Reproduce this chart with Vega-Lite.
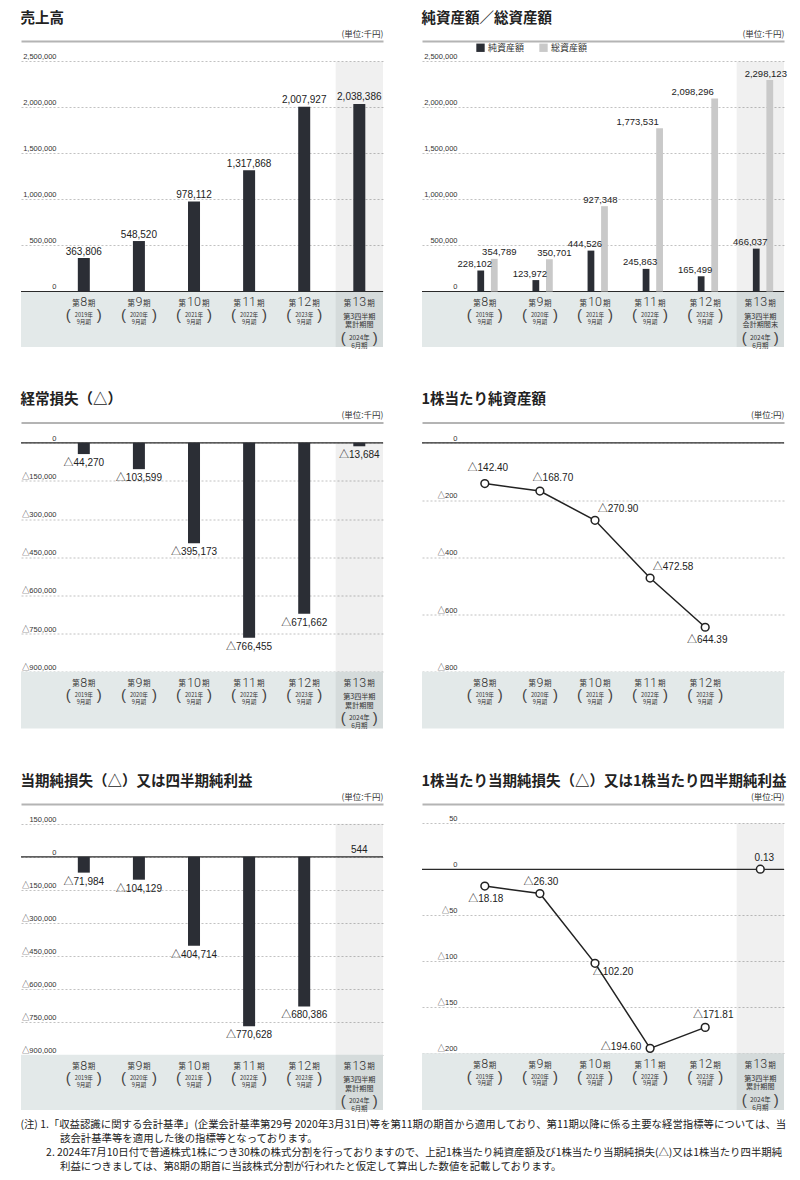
{
"$schema": "https://vega.github.io/schema/vega-lite/v6.json",
"background": "white",
"padding": {"left": 20, "top": 10, "right": 5, "bottom": 5},
"title": {"text": ["(注) 1.「収益認識に関する会計基準」(企業会計基準第29号 2020年3月31日)等を第11期の期首から適用しており、第11期以降に係る主要な経営指標等については、当", "\u200B\u3000\u3000\u3000\u2002\u2005\u200A該会計基準等を適用した後の指標等となっております。", "\u200B\u3000\u3000\u2005 2. 2024年7月10日付で普通株式1株につき30株の株式分割を行っておりますので、上記1株当たり純資産額及び1株当たり当期純損失(△)又は1株当たり四半期純", "\u200B\u3000\u3000\u3000\u2002\u2005\u200A利益につきましては、第8期の期首に当該株式分割が行われたと仮定して算出した数値を記載しております。"], "orient": "bottom", "anchor": "start", "fontSize": 10.4, "fontWeight": "normal", "lineHeight": 14.3, "offset": 7, "color": "#222", "font": "Noto Sans CJK JP"},
"datasets": {
"periods": [
{"period": "第8期", "n": "8", "sub": "2019年\n9月期"},
{"period": "第9期", "n": "9", "sub": "2020年\n9月期"},
{"period": "第10期", "n": "10", "sub": "2021年\n9月期"},
{"period": "第11期", "n": "11", "sub": "2022年\n9月期"},
{"period": "第12期", "n": "12", "sub": "2023年\n9月期"},
{"period": "第13期", "n": "13", "sub": "2024年\n6月期", "q": "第3四半期\n累計期間", "q2": "第3四半期\n会計期間末"}
],
"sales": [
{"period": "第8期", "value": 363806}, {"period": "第9期", "value": 548520}, {"period": "第10期", "value": 978112},
{"period": "第11期", "value": 1317868}, {"period": "第12期", "value": 2007927}, {"period": "第13期", "value": 2038386}
],
"assets": [
{"period": "第8期", "type": "純資産額", "value": 228102}, {"period": "第8期", "type": "総資産額", "value": 354789},
{"period": "第9期", "type": "純資産額", "value": 123972}, {"period": "第9期", "type": "総資産額", "value": 350701},
{"period": "第10期", "type": "純資産額", "value": 444526}, {"period": "第10期", "type": "総資産額", "value": 927348},
{"period": "第11期", "type": "純資産額", "value": 245863}, {"period": "第11期", "type": "総資産額", "value": 1773531},
{"period": "第12期", "type": "純資産額", "value": 165499}, {"period": "第12期", "type": "総資産額", "value": 2098296},
{"period": "第13期", "type": "純資産額", "value": 466037}, {"period": "第13期", "type": "総資産額", "value": 2298123}
],
"ordinary": [
{"period": "第8期", "value": -44270, "label": "△44,270"}, {"period": "第9期", "value": -103599, "label": "△103,599"},
{"period": "第10期", "value": -395173, "label": "△395,173"}, {"period": "第11期", "value": -766455, "label": "△766,455"},
{"period": "第12期", "value": -671662, "label": "△671,662"}, {"period": "第13期", "value": -13684, "label": "△13,684"}
],
"bps": [
{"period": "第8期", "value": -142.40, "label": "△142.40"}, {"period": "第9期", "value": -168.70, "label": "△168.70"},
{"period": "第10期", "value": -270.90, "label": "△270.90"}, {"period": "第11期", "value": -472.58, "label": "△472.58"},
{"period": "第12期", "value": -644.39, "label": "△644.39"}
],
"netloss": [
{"period": "第8期", "value": -71984, "label": "△71,984"}, {"period": "第9期", "value": -104129, "label": "△104,129"},
{"period": "第10期", "value": -404714, "label": "△404,714"}, {"period": "第11期", "value": -770628, "label": "△770,628"},
{"period": "第12期", "value": -680386, "label": "△680,386"}, {"period": "第13期", "value": 544, "label": "544"}
],
"eps": [
{"period": "第8期", "value": -18.18, "label": "△18.18"}, {"period": "第9期", "value": -26.30, "label": "△26.30"},
{"period": "第10期", "value": -102.20, "label": "△102.20"}, {"period": "第11期", "value": -194.60, "label": "△194.60"},
{"period": "第12期", "value": -171.81, "label": "△171.81"}, {"period": "第13期", "value": 0.13, "label": "0.13"}
]
},
"columns": 2,
"spacing": {"row": 75.5, "column": 39},
"bounds": "flush",
"concat": [
{
"width": 362, "height": 306,
"title": {"text": "売上高"},
"layer": [
{"data": {"values": [{}]}, "mark": {"type": "rect", "color": "#e3e9e9"}, "encoding": {"y": {"datum": 0, "type": "quantitative", "scale": {"domain": [-603300, 2722800], "nice": false, "zero": false}, "axis": {"title": null, "values": [0, 500000, 1000000, 1500000, 2000000, 2500000], "labelExpr": "datum.value < 0 ? '△' + format(-datum.value, ',') : format(datum.value, ',')"}}, "y2": {"datum": -603300}}},
{"data": {"values": [{"period": "第13期"}]}, "mark": {"type": "bar", "color": "#000000", "opacity": 0.06, "width": {"band": 1}}, "encoding": {"x": {"field": "period", "type": "nominal", "scale": {"type": "band", "domain": ["第8期", "第9期", "第10期", "第11期", "第12期", "第13期"], "paddingInner": 0.14, "paddingOuter": 0.355, "align": 1}, "axis": {"orient": "top", "title": "(単位:千円)"}}, "y": {"datum": 2500000, "type": "quantitative"}, "y2": {"datum": -603300}}},
{"data": {"values": [{}]}, "mark": {"type": "rule", "color": "#2a2a2a", "strokeWidth": 1.2}, "encoding": {"y": {"datum": 0, "type": "quantitative"}}},
{"data": {"name": "sales"}, "mark": {"type": "bar", "color": "#2b2e35", "width": 12}, "encoding": {"x": {"field": "period", "type": "nominal", "scale": {"type": "band", "domain": ["第8期", "第9期", "第10期", "第11期", "第12期", "第13期"], "paddingInner": 0.14, "paddingOuter": 0.355, "align": 1}}, "y": {"field": "value", "type": "quantitative"}, "y2": {"datum": 0}}},
{"data": {"name": "sales"}, "mark": {"type": "text", "font": "Liberation Sans, Noto Sans CJK JP, sans-serif", "fontSize": 10, "baseline": "alphabetic", "dy": -3.5, "color": "#222"}, "encoding": {"x": {"field": "period", "type": "nominal", "scale": {"type": "band", "domain": ["第8期", "第9期", "第10期", "第11期", "第12期", "第13期"], "paddingInner": 0.14, "paddingOuter": 0.355, "align": 1}}, "y": {"field": "value", "type": "quantitative"}, "text": {"field": "value", "type": "quantitative", "format": ","}}},
{"data": {"name": "periods"}, "transform": [{"filter": "length(datum.n) == 1"}], "mark": {"type": "text", "text": "第", "align": "right", "dx": -4, "dy": 12.5, "fontSize": 7.5, "color": "#333"}, "encoding": {"x": {"field": "period", "type": "nominal", "scale": {"type": "band", "domain": ["第8期", "第9期", "第10期", "第11期", "第12期", "第13期"], "paddingInner": 0.14, "paddingOuter": 0.355, "align": 1}}, "y": {"datum": 0, "type": "quantitative"}}},
{"data": {"name": "periods"}, "transform": [{"filter": "length(datum.n) == 1"}], "mark": {"type": "text", "text": "期", "align": "left", "dx": 4, "dy": 12.5, "fontSize": 7.5, "color": "#333"}, "encoding": {"x": {"field": "period", "type": "nominal", "scale": {"type": "band", "domain": ["第8期", "第9期", "第10期", "第11期", "第12期", "第13期"], "paddingInner": 0.14, "paddingOuter": 0.355, "align": 1}}, "y": {"datum": 0, "type": "quantitative"}}},
{"data": {"name": "periods"}, "transform": [{"filter": "length(datum.n) == 2"}], "mark": {"type": "text", "text": "第", "align": "right", "dx": -8, "dy": 12.5, "fontSize": 7.5, "color": "#333"}, "encoding": {"x": {"field": "period", "type": "nominal", "scale": {"type": "band", "domain": ["第8期", "第9期", "第10期", "第11期", "第12期", "第13期"], "paddingInner": 0.14, "paddingOuter": 0.355, "align": 1}}, "y": {"datum": 0, "type": "quantitative"}}},
{"data": {"name": "periods"}, "transform": [{"filter": "length(datum.n) == 2"}], "mark": {"type": "text", "text": "期", "align": "left", "dx": 8, "dy": 12.5, "fontSize": 7.5, "color": "#333"}, "encoding": {"x": {"field": "period", "type": "nominal", "scale": {"type": "band", "domain": ["第8期", "第9期", "第10期", "第11期", "第12期", "第13期"], "paddingInner": 0.14, "paddingOuter": 0.355, "align": 1}}, "y": {"datum": 0, "type": "quantitative"}}},
{"data": {"name": "periods"}, "mark": {"type": "text", "font": "Roboto", "fontWeight": 300, "fontSize": 12.5, "dy": 11, "color": "#333"}, "encoding": {"x": {"field": "period", "type": "nominal", "scale": {"type": "band", "domain": ["第8期", "第9期", "第10期", "第11期", "第12期", "第13期"], "paddingInner": 0.14, "paddingOuter": 0.355, "align": 1}}, "y": {"datum": 0, "type": "quantitative"}, "text": {"field": "n", "type": "nominal"}}},
{"data": {"name": "periods"}, "transform": [{"filter": "datum.n != '13'"}], "mark": {"type": "text", "fontSize": 5.6, "lineBreak": "\n", "lineHeight": 6.6, "dy": 23.5, "color": "#333"}, "encoding": {"x": {"field": "period", "type": "nominal", "scale": {"type": "band", "domain": ["第8期", "第9期", "第10期", "第11期", "第12期", "第13期"], "paddingInner": 0.14, "paddingOuter": 0.355, "align": 1}}, "y": {"datum": 0, "type": "quantitative"}, "text": {"field": "sub", "type": "nominal"}}},
{"data": {"name": "periods"}, "transform": [{"filter": "datum.n != '13'"}], "mark": {"type": "text", "text": "(", "font": "Liberation Sans, sans-serif", "fontSize": 15, "dx": -15.5, "dy": 23.5, "color": "#444"}, "encoding": {"x": {"field": "period", "type": "nominal", "scale": {"type": "band", "domain": ["第8期", "第9期", "第10期", "第11期", "第12期", "第13期"], "paddingInner": 0.14, "paddingOuter": 0.355, "align": 1}}, "y": {"datum": 0, "type": "quantitative"}}},
{"data": {"name": "periods"}, "transform": [{"filter": "datum.n != '13'"}], "mark": {"type": "text", "text": ")", "font": "Liberation Sans, sans-serif", "fontSize": 15, "dx": 15.5, "dy": 23.5, "color": "#444"}, "encoding": {"x": {"field": "period", "type": "nominal", "scale": {"type": "band", "domain": ["第8期", "第9期", "第10期", "第11期", "第12期", "第13期"], "paddingInner": 0.14, "paddingOuter": 0.355, "align": 1}}, "y": {"datum": 0, "type": "quantitative"}}},
{"data": {"name": "periods"}, "transform": [{"filter": "datum.n == '13'"}], "mark": {"type": "text", "fontSize": 7.1, "lineBreak": "\n", "lineHeight": 8.4, "dy": 25.6, "color": "#333"}, "encoding": {"x": {"field": "period", "type": "nominal", "scale": {"type": "band", "domain": ["第8期", "第9期", "第10期", "第11期", "第12期", "第13期"], "paddingInner": 0.14, "paddingOuter": 0.355, "align": 1}}, "y": {"datum": 0, "type": "quantitative"}, "text": {"field": "q", "type": "nominal"}}},
{"data": {"name": "periods"}, "transform": [{"filter": "datum.n == '13'"}], "mark": {"type": "text", "fontSize": 6.4, "lineBreak": "\n", "lineHeight": 8, "dy": 46.4, "color": "#333"}, "encoding": {"x": {"field": "period", "type": "nominal", "scale": {"type": "band", "domain": ["第8期", "第9期", "第10期", "第11期", "第12期", "第13期"], "paddingInner": 0.14, "paddingOuter": 0.355, "align": 1}}, "y": {"datum": 0, "type": "quantitative"}, "text": {"field": "sub", "type": "nominal"}}},
{"data": {"name": "periods"}, "transform": [{"filter": "datum.n == '13'"}], "mark": {"type": "text", "text": "(", "font": "Liberation Sans, sans-serif", "fontSize": 15, "dx": -16, "dy": 46.4, "color": "#444"}, "encoding": {"x": {"field": "period", "type": "nominal", "scale": {"type": "band", "domain": ["第8期", "第9期", "第10期", "第11期", "第12期", "第13期"], "paddingInner": 0.14, "paddingOuter": 0.355, "align": 1}}, "y": {"datum": 0, "type": "quantitative"}}},
{"data": {"name": "periods"}, "transform": [{"filter": "datum.n == '13'"}], "mark": {"type": "text", "text": ")", "font": "Liberation Sans, sans-serif", "fontSize": 15, "dx": 16, "dy": 46.4, "color": "#444"}, "encoding": {"x": {"field": "period", "type": "nominal", "scale": {"type": "band", "domain": ["第8期", "第9期", "第10期", "第11期", "第12期", "第13期"], "paddingInner": 0.14, "paddingOuter": 0.355, "align": 1}}, "y": {"datum": 0, "type": "quantitative"}}}
]
},
{
"width": 362, "height": 306,
"title": {"text": "純資産額／総資産額"},
"layer": [
{"data": {"values": [{}]}, "mark": {"type": "rect", "color": "#e3e9e9"}, "encoding": {"y": {"datum": 0, "type": "quantitative", "scale": {"domain": [-603300, 2722800], "nice": false, "zero": false}, "axis": {"title": null, "values": [0, 500000, 1000000, 1500000, 2000000, 2500000], "labelExpr": "datum.value < 0 ? '△' + format(-datum.value, ',') : format(datum.value, ',')"}}, "y2": {"datum": -603300}}},
{"data": {"values": [{"period": "第13期"}]}, "mark": {"type": "bar", "color": "#000000", "opacity": 0.06, "width": {"band": 1}}, "encoding": {"x": {"field": "period", "type": "nominal", "scale": {"type": "band", "domain": ["第8期", "第9期", "第10期", "第11期", "第12期", "第13期"], "paddingInner": 0.14, "paddingOuter": 0.355, "align": 1}, "axis": {"orient": "top", "title": "(単位:千円)"}}, "y": {"datum": 2500000, "type": "quantitative"}, "y2": {"datum": -603300}}},
{"data": {"values": [{}]}, "mark": {"type": "rule", "color": "#2a2a2a", "strokeWidth": 1.2}, "encoding": {"y": {"datum": 0, "type": "quantitative"}}},
{"data": {"name": "assets"}, "mark": {"type": "bar"}, "encoding": {"x": {"field": "period", "type": "nominal", "scale": {"type": "band", "domain": ["第8期", "第9期", "第10期", "第11期", "第12期", "第13期"], "paddingInner": 0.14, "paddingOuter": 0.355, "align": 1}}, "xOffset": {"field": "type", "type": "nominal", "scale": {"domain": ["純資産額", "総資産額"], "paddingInner": 0.5, "paddingOuter": 1.3, "align": 0.6}}, "y": {"field": "value", "type": "quantitative"}, "y2": {"datum": 0}, "color": {"field": "type", "type": "nominal", "scale": {"domain": ["純資産額", "総資産額"], "range": ["#2b2e35", "#c9c9c9"]}, "legend": {"title": null, "orient": "none", "legendX": 455, "legendY": 2, "direction": "horizontal", "symbolType": "square", "symbolSize": 70, "symbolStrokeWidth": 0, "labelFontSize": 9, "labelColor": "#333", "columnPadding": 14, "labelOffset": 3}}}},
{"data": {"name": "assets"}, "transform": [{"filter": "datum.type == '純資産額'"}], "mark": {"type": "text", "font": "Liberation Sans, Noto Sans CJK JP, sans-serif", "fontSize": 9.5, "baseline": "alphabetic", "dy": -3.5, "dx": -6, "color": "#222"}, "encoding": {"x": {"field": "period", "type": "nominal", "scale": {"type": "band", "domain": ["第8期", "第9期", "第10期", "第11期", "第12期", "第13期"], "paddingInner": 0.14, "paddingOuter": 0.355, "align": 1}}, "xOffset": {"field": "type", "type": "nominal", "scale": {"domain": ["純資産額", "総資産額"], "paddingInner": 0.5, "paddingOuter": 1.3, "align": 0.6}}, "y": {"field": "value", "type": "quantitative"}, "text": {"field": "value", "type": "quantitative", "format": ","}}},
{"data": {"name": "assets"}, "transform": [{"filter": "datum.type == '総資産額' && (datum.period == '第8期' || datum.period == '第9期')"}], "mark": {"type": "text", "font": "Liberation Sans, Noto Sans CJK JP, sans-serif", "fontSize": 9.5, "baseline": "alphabetic", "dy": -3.5, "dx": 5, "color": "#222"}, "encoding": {"x": {"field": "period", "type": "nominal", "scale": {"type": "band", "domain": ["第8期", "第9期", "第10期", "第11期", "第12期", "第13期"], "paddingInner": 0.14, "paddingOuter": 0.355, "align": 1}}, "xOffset": {"field": "type", "type": "nominal", "scale": {"domain": ["純資産額", "総資産額"], "paddingInner": 0.5, "paddingOuter": 1.3, "align": 0.6}}, "y": {"field": "value", "type": "quantitative"}, "text": {"field": "value", "type": "quantitative", "format": ","}}},
{"data": {"name": "assets"}, "transform": [{"filter": "datum.type == '総資産額' && (datum.period == '第10期' || datum.period == '第13期')"}], "mark": {"type": "text", "font": "Liberation Sans, Noto Sans CJK JP, sans-serif", "fontSize": 9.5, "baseline": "alphabetic", "dy": -3.5, "dx": -4, "color": "#222"}, "encoding": {"x": {"field": "period", "type": "nominal", "scale": {"type": "band", "domain": ["第8期", "第9期", "第10期", "第11期", "第12期", "第13期"], "paddingInner": 0.14, "paddingOuter": 0.355, "align": 1}}, "xOffset": {"field": "type", "type": "nominal", "scale": {"domain": ["純資産額", "総資産額"], "paddingInner": 0.5, "paddingOuter": 1.3, "align": 0.6}}, "y": {"field": "value", "type": "quantitative"}, "text": {"field": "value", "type": "quantitative", "format": ","}}},
{"data": {"name": "assets"}, "transform": [{"filter": "datum.type == '総資産額' && (datum.period == '第11期' || datum.period == '第12期')"}], "mark": {"type": "text", "font": "Liberation Sans, Noto Sans CJK JP, sans-serif", "fontSize": 9.5, "baseline": "alphabetic", "dy": -3.5, "dx": -22, "color": "#222"}, "encoding": {"x": {"field": "period", "type": "nominal", "scale": {"type": "band", "domain": ["第8期", "第9期", "第10期", "第11期", "第12期", "第13期"], "paddingInner": 0.14, "paddingOuter": 0.355, "align": 1}}, "xOffset": {"field": "type", "type": "nominal", "scale": {"domain": ["純資産額", "総資産額"], "paddingInner": 0.5, "paddingOuter": 1.3, "align": 0.6}}, "y": {"field": "value", "type": "quantitative"}, "text": {"field": "value", "type": "quantitative", "format": ","}}},
{"data": {"name": "periods"}, "transform": [{"filter": "length(datum.n) == 1"}], "mark": {"type": "text", "text": "第", "align": "right", "dx": -4, "dy": 12.5, "fontSize": 7.5, "color": "#333"}, "encoding": {"x": {"field": "period", "type": "nominal", "scale": {"type": "band", "domain": ["第8期", "第9期", "第10期", "第11期", "第12期", "第13期"], "paddingInner": 0.14, "paddingOuter": 0.355, "align": 1}}, "y": {"datum": 0, "type": "quantitative"}}},
{"data": {"name": "periods"}, "transform": [{"filter": "length(datum.n) == 1"}], "mark": {"type": "text", "text": "期", "align": "left", "dx": 4, "dy": 12.5, "fontSize": 7.5, "color": "#333"}, "encoding": {"x": {"field": "period", "type": "nominal", "scale": {"type": "band", "domain": ["第8期", "第9期", "第10期", "第11期", "第12期", "第13期"], "paddingInner": 0.14, "paddingOuter": 0.355, "align": 1}}, "y": {"datum": 0, "type": "quantitative"}}},
{"data": {"name": "periods"}, "transform": [{"filter": "length(datum.n) == 2"}], "mark": {"type": "text", "text": "第", "align": "right", "dx": -8, "dy": 12.5, "fontSize": 7.5, "color": "#333"}, "encoding": {"x": {"field": "period", "type": "nominal", "scale": {"type": "band", "domain": ["第8期", "第9期", "第10期", "第11期", "第12期", "第13期"], "paddingInner": 0.14, "paddingOuter": 0.355, "align": 1}}, "y": {"datum": 0, "type": "quantitative"}}},
{"data": {"name": "periods"}, "transform": [{"filter": "length(datum.n) == 2"}], "mark": {"type": "text", "text": "期", "align": "left", "dx": 8, "dy": 12.5, "fontSize": 7.5, "color": "#333"}, "encoding": {"x": {"field": "period", "type": "nominal", "scale": {"type": "band", "domain": ["第8期", "第9期", "第10期", "第11期", "第12期", "第13期"], "paddingInner": 0.14, "paddingOuter": 0.355, "align": 1}}, "y": {"datum": 0, "type": "quantitative"}}},
{"data": {"name": "periods"}, "mark": {"type": "text", "font": "Roboto", "fontWeight": 300, "fontSize": 12.5, "dy": 11, "color": "#333"}, "encoding": {"x": {"field": "period", "type": "nominal", "scale": {"type": "band", "domain": ["第8期", "第9期", "第10期", "第11期", "第12期", "第13期"], "paddingInner": 0.14, "paddingOuter": 0.355, "align": 1}}, "y": {"datum": 0, "type": "quantitative"}, "text": {"field": "n", "type": "nominal"}}},
{"data": {"name": "periods"}, "transform": [{"filter": "datum.n != '13'"}], "mark": {"type": "text", "fontSize": 5.6, "lineBreak": "\n", "lineHeight": 6.6, "dy": 23.5, "color": "#333"}, "encoding": {"x": {"field": "period", "type": "nominal", "scale": {"type": "band", "domain": ["第8期", "第9期", "第10期", "第11期", "第12期", "第13期"], "paddingInner": 0.14, "paddingOuter": 0.355, "align": 1}}, "y": {"datum": 0, "type": "quantitative"}, "text": {"field": "sub", "type": "nominal"}}},
{"data": {"name": "periods"}, "transform": [{"filter": "datum.n != '13'"}], "mark": {"type": "text", "text": "(", "font": "Liberation Sans, sans-serif", "fontSize": 15, "dx": -15.5, "dy": 23.5, "color": "#444"}, "encoding": {"x": {"field": "period", "type": "nominal", "scale": {"type": "band", "domain": ["第8期", "第9期", "第10期", "第11期", "第12期", "第13期"], "paddingInner": 0.14, "paddingOuter": 0.355, "align": 1}}, "y": {"datum": 0, "type": "quantitative"}}},
{"data": {"name": "periods"}, "transform": [{"filter": "datum.n != '13'"}], "mark": {"type": "text", "text": ")", "font": "Liberation Sans, sans-serif", "fontSize": 15, "dx": 15.5, "dy": 23.5, "color": "#444"}, "encoding": {"x": {"field": "period", "type": "nominal", "scale": {"type": "band", "domain": ["第8期", "第9期", "第10期", "第11期", "第12期", "第13期"], "paddingInner": 0.14, "paddingOuter": 0.355, "align": 1}}, "y": {"datum": 0, "type": "quantitative"}}},
{"data": {"name": "periods"}, "transform": [{"filter": "datum.n == '13'"}], "mark": {"type": "text", "fontSize": 7.1, "lineBreak": "\n", "lineHeight": 8.4, "dy": 25.6, "color": "#333"}, "encoding": {"x": {"field": "period", "type": "nominal", "scale": {"type": "band", "domain": ["第8期", "第9期", "第10期", "第11期", "第12期", "第13期"], "paddingInner": 0.14, "paddingOuter": 0.355, "align": 1}}, "y": {"datum": 0, "type": "quantitative"}, "text": {"field": "q2", "type": "nominal"}}},
{"data": {"name": "periods"}, "transform": [{"filter": "datum.n == '13'"}], "mark": {"type": "text", "fontSize": 6.4, "lineBreak": "\n", "lineHeight": 8, "dy": 46.4, "color": "#333"}, "encoding": {"x": {"field": "period", "type": "nominal", "scale": {"type": "band", "domain": ["第8期", "第9期", "第10期", "第11期", "第12期", "第13期"], "paddingInner": 0.14, "paddingOuter": 0.355, "align": 1}}, "y": {"datum": 0, "type": "quantitative"}, "text": {"field": "sub", "type": "nominal"}}},
{"data": {"name": "periods"}, "transform": [{"filter": "datum.n == '13'"}], "mark": {"type": "text", "text": "(", "font": "Liberation Sans, sans-serif", "fontSize": 15, "dx": -16, "dy": 46.4, "color": "#444"}, "encoding": {"x": {"field": "period", "type": "nominal", "scale": {"type": "band", "domain": ["第8期", "第9期", "第10期", "第11期", "第12期", "第13期"], "paddingInner": 0.14, "paddingOuter": 0.355, "align": 1}}, "y": {"datum": 0, "type": "quantitative"}}},
{"data": {"name": "periods"}, "transform": [{"filter": "datum.n == '13'"}], "mark": {"type": "text", "text": ")", "font": "Liberation Sans, sans-serif", "fontSize": 15, "dx": 16, "dy": 46.4, "color": "#444"}, "encoding": {"x": {"field": "period", "type": "nominal", "scale": {"type": "band", "domain": ["第8期", "第9期", "第10期", "第11期", "第12期", "第13期"], "paddingInner": 0.14, "paddingOuter": 0.355, "align": 1}}, "y": {"datum": 0, "type": "quantitative"}}}
]
},
{
"width": 362, "height": 306,
"title": {"text": "経常損失（△）"},
"layer": [
{"data": {"values": [{}]}, "mark": {"type": "rect", "color": "#e3e9e9"}, "encoding": {"y": {"datum": -900000, "type": "quantitative", "scale": {"domain": [-1123000, 79800], "nice": false, "zero": false}, "axis": {"title": null, "values": [0, -150000, -300000, -450000, -600000, -750000, -900000], "labelExpr": "datum.value < 0 ? '△' + format(-datum.value, ',') : format(datum.value, ',')"}}, "y2": {"datum": -1123000}}},
{"data": {"values": [{"period": "第13期"}]}, "mark": {"type": "bar", "color": "#000000", "opacity": 0.06, "width": {"band": 1}}, "encoding": {"x": {"field": "period", "type": "nominal", "scale": {"type": "band", "domain": ["第8期", "第9期", "第10期", "第11期", "第12期", "第13期"], "paddingInner": 0.14, "paddingOuter": 0.355, "align": 1}, "axis": {"orient": "top", "title": "(単位:千円)"}}, "y": {"datum": 0, "type": "quantitative"}, "y2": {"datum": -1123000}}},
{"data": {"values": [{}]}, "mark": {"type": "rule", "color": "#2a2a2a", "strokeWidth": 1.2}, "encoding": {"y": {"datum": 0, "type": "quantitative"}}},
{"data": {"name": "ordinary"}, "mark": {"type": "bar", "color": "#2b2e35", "width": 12}, "encoding": {"x": {"field": "period", "type": "nominal", "scale": {"type": "band", "domain": ["第8期", "第9期", "第10期", "第11期", "第12期", "第13期"], "paddingInner": 0.14, "paddingOuter": 0.355, "align": 1}}, "y": {"field": "value", "type": "quantitative"}, "y2": {"datum": 0}}},
{"data": {"name": "ordinary"}, "mark": {"type": "text", "font": "Liberation Sans, Noto Sans CJK JP, sans-serif", "fontSize": 10, "baseline": "top", "dy": 4, "color": "#222"}, "encoding": {"x": {"field": "period", "type": "nominal", "scale": {"type": "band", "domain": ["第8期", "第9期", "第10期", "第11期", "第12期", "第13期"], "paddingInner": 0.14, "paddingOuter": 0.355, "align": 1}}, "y": {"field": "value", "type": "quantitative"}, "text": {"field": "label", "type": "nominal"}}},
{"data": {"name": "periods"}, "transform": [{"filter": "length(datum.n) == 1"}], "mark": {"type": "text", "text": "第", "align": "right", "dx": -4, "dy": 12.5, "fontSize": 7.5, "color": "#333"}, "encoding": {"x": {"field": "period", "type": "nominal", "scale": {"type": "band", "domain": ["第8期", "第9期", "第10期", "第11期", "第12期", "第13期"], "paddingInner": 0.14, "paddingOuter": 0.355, "align": 1}}, "y": {"datum": -900000, "type": "quantitative"}}},
{"data": {"name": "periods"}, "transform": [{"filter": "length(datum.n) == 1"}], "mark": {"type": "text", "text": "期", "align": "left", "dx": 4, "dy": 12.5, "fontSize": 7.5, "color": "#333"}, "encoding": {"x": {"field": "period", "type": "nominal", "scale": {"type": "band", "domain": ["第8期", "第9期", "第10期", "第11期", "第12期", "第13期"], "paddingInner": 0.14, "paddingOuter": 0.355, "align": 1}}, "y": {"datum": -900000, "type": "quantitative"}}},
{"data": {"name": "periods"}, "transform": [{"filter": "length(datum.n) == 2"}], "mark": {"type": "text", "text": "第", "align": "right", "dx": -8, "dy": 12.5, "fontSize": 7.5, "color": "#333"}, "encoding": {"x": {"field": "period", "type": "nominal", "scale": {"type": "band", "domain": ["第8期", "第9期", "第10期", "第11期", "第12期", "第13期"], "paddingInner": 0.14, "paddingOuter": 0.355, "align": 1}}, "y": {"datum": -900000, "type": "quantitative"}}},
{"data": {"name": "periods"}, "transform": [{"filter": "length(datum.n) == 2"}], "mark": {"type": "text", "text": "期", "align": "left", "dx": 8, "dy": 12.5, "fontSize": 7.5, "color": "#333"}, "encoding": {"x": {"field": "period", "type": "nominal", "scale": {"type": "band", "domain": ["第8期", "第9期", "第10期", "第11期", "第12期", "第13期"], "paddingInner": 0.14, "paddingOuter": 0.355, "align": 1}}, "y": {"datum": -900000, "type": "quantitative"}}},
{"data": {"name": "periods"}, "mark": {"type": "text", "font": "Roboto", "fontWeight": 300, "fontSize": 12.5, "dy": 11, "color": "#333"}, "encoding": {"x": {"field": "period", "type": "nominal", "scale": {"type": "band", "domain": ["第8期", "第9期", "第10期", "第11期", "第12期", "第13期"], "paddingInner": 0.14, "paddingOuter": 0.355, "align": 1}}, "y": {"datum": -900000, "type": "quantitative"}, "text": {"field": "n", "type": "nominal"}}},
{"data": {"name": "periods"}, "transform": [{"filter": "datum.n != '13'"}], "mark": {"type": "text", "fontSize": 5.6, "lineBreak": "\n", "lineHeight": 6.6, "dy": 23.5, "color": "#333"}, "encoding": {"x": {"field": "period", "type": "nominal", "scale": {"type": "band", "domain": ["第8期", "第9期", "第10期", "第11期", "第12期", "第13期"], "paddingInner": 0.14, "paddingOuter": 0.355, "align": 1}}, "y": {"datum": -900000, "type": "quantitative"}, "text": {"field": "sub", "type": "nominal"}}},
{"data": {"name": "periods"}, "transform": [{"filter": "datum.n != '13'"}], "mark": {"type": "text", "text": "(", "font": "Liberation Sans, sans-serif", "fontSize": 15, "dx": -15.5, "dy": 23.5, "color": "#444"}, "encoding": {"x": {"field": "period", "type": "nominal", "scale": {"type": "band", "domain": ["第8期", "第9期", "第10期", "第11期", "第12期", "第13期"], "paddingInner": 0.14, "paddingOuter": 0.355, "align": 1}}, "y": {"datum": -900000, "type": "quantitative"}}},
{"data": {"name": "periods"}, "transform": [{"filter": "datum.n != '13'"}], "mark": {"type": "text", "text": ")", "font": "Liberation Sans, sans-serif", "fontSize": 15, "dx": 15.5, "dy": 23.5, "color": "#444"}, "encoding": {"x": {"field": "period", "type": "nominal", "scale": {"type": "band", "domain": ["第8期", "第9期", "第10期", "第11期", "第12期", "第13期"], "paddingInner": 0.14, "paddingOuter": 0.355, "align": 1}}, "y": {"datum": -900000, "type": "quantitative"}}},
{"data": {"name": "periods"}, "transform": [{"filter": "datum.n == '13'"}], "mark": {"type": "text", "fontSize": 7.1, "lineBreak": "\n", "lineHeight": 8.4, "dy": 25.6, "color": "#333"}, "encoding": {"x": {"field": "period", "type": "nominal", "scale": {"type": "band", "domain": ["第8期", "第9期", "第10期", "第11期", "第12期", "第13期"], "paddingInner": 0.14, "paddingOuter": 0.355, "align": 1}}, "y": {"datum": -900000, "type": "quantitative"}, "text": {"field": "q", "type": "nominal"}}},
{"data": {"name": "periods"}, "transform": [{"filter": "datum.n == '13'"}], "mark": {"type": "text", "fontSize": 6.4, "lineBreak": "\n", "lineHeight": 8, "dy": 46.4, "color": "#333"}, "encoding": {"x": {"field": "period", "type": "nominal", "scale": {"type": "band", "domain": ["第8期", "第9期", "第10期", "第11期", "第12期", "第13期"], "paddingInner": 0.14, "paddingOuter": 0.355, "align": 1}}, "y": {"datum": -900000, "type": "quantitative"}, "text": {"field": "sub", "type": "nominal"}}},
{"data": {"name": "periods"}, "transform": [{"filter": "datum.n == '13'"}], "mark": {"type": "text", "text": "(", "font": "Liberation Sans, sans-serif", "fontSize": 15, "dx": -16, "dy": 46.4, "color": "#444"}, "encoding": {"x": {"field": "period", "type": "nominal", "scale": {"type": "band", "domain": ["第8期", "第9期", "第10期", "第11期", "第12期", "第13期"], "paddingInner": 0.14, "paddingOuter": 0.355, "align": 1}}, "y": {"datum": -900000, "type": "quantitative"}}},
{"data": {"name": "periods"}, "transform": [{"filter": "datum.n == '13'"}], "mark": {"type": "text", "text": ")", "font": "Liberation Sans, sans-serif", "fontSize": 15, "dx": 16, "dy": 46.4, "color": "#444"}, "encoding": {"x": {"field": "period", "type": "nominal", "scale": {"type": "band", "domain": ["第8期", "第9期", "第10期", "第11期", "第12期", "第13期"], "paddingInner": 0.14, "paddingOuter": 0.355, "align": 1}}, "y": {"datum": -900000, "type": "quantitative"}}}
]
},
{
"width": 362, "height": 306,
"title": {"text": "1株当たり純資産額"},
"layer": [
{"data": {"values": [{}]}, "mark": {"type": "rect", "color": "#e3e9e9"}, "encoding": {"y": {"datum": -800, "type": "quantitative", "scale": {"domain": [-998.1, 70.9], "nice": false, "zero": false}, "axis": {"title": null, "values": [0, -200, -400, -600, -800], "labelExpr": "datum.value < 0 ? '△' + format(-datum.value, ',') : format(datum.value, ',')"}}, "y2": {"datum": -998.1}}},
{"data": {"values": [{}]}, "mark": {"type": "rule", "color": "#2a2a2a", "strokeWidth": 1.2}, "encoding": {"y": {"datum": 0, "type": "quantitative"}}},
{"data": {"name": "bps"}, "mark": {"type": "line", "color": "#222", "strokeWidth": 1.5}, "encoding": {"x": {"field": "period", "type": "nominal", "scale": {"type": "band", "domain": ["第8期", "第9期", "第10期", "第11期", "第12期", "第13期"], "paddingInner": 0.14, "paddingOuter": 0.355, "align": 1}, "axis": {"orient": "top", "title": "(単位:円)"}}, "y": {"field": "value", "type": "quantitative"}}},
{"data": {"name": "bps"}, "mark": {"type": "point", "filled": true, "fill": "white", "stroke": "#222", "strokeWidth": 1.5, "size": 60, "opacity": 1}, "encoding": {"x": {"field": "period", "type": "nominal", "scale": {"type": "band", "domain": ["第8期", "第9期", "第10期", "第11期", "第12期", "第13期"], "paddingInner": 0.14, "paddingOuter": 0.355, "align": 1}}, "y": {"field": "value", "type": "quantitative"}}},
{"data": {"name": "bps"}, "transform": [{"filter": "datum.period == '第8期'"}], "mark": {"type": "text", "font": "Liberation Sans, Noto Sans CJK JP, sans-serif", "fontSize": 10, "dx": 3, "dy": -16, "color": "#222"}, "encoding": {"x": {"field": "period", "type": "nominal", "scale": {"type": "band", "domain": ["第8期", "第9期", "第10期", "第11期", "第12期", "第13期"], "paddingInner": 0.14, "paddingOuter": 0.355, "align": 1}}, "y": {"field": "value", "type": "quantitative"}, "text": {"field": "label", "type": "nominal"}}},
{"data": {"name": "bps"}, "transform": [{"filter": "datum.period == '第9期'"}], "mark": {"type": "text", "font": "Liberation Sans, Noto Sans CJK JP, sans-serif", "fontSize": 10, "dx": 13, "dy": -13, "color": "#222"}, "encoding": {"x": {"field": "period", "type": "nominal", "scale": {"type": "band", "domain": ["第8期", "第9期", "第10期", "第11期", "第12期", "第13期"], "paddingInner": 0.14, "paddingOuter": 0.355, "align": 1}}, "y": {"field": "value", "type": "quantitative"}, "text": {"field": "label", "type": "nominal"}}},
{"data": {"name": "bps"}, "transform": [{"filter": "datum.period == '第10期' || datum.period == '第11期'"}], "mark": {"type": "text", "font": "Liberation Sans, Noto Sans CJK JP, sans-serif", "fontSize": 10, "dx": 23, "dy": -11, "color": "#222"}, "encoding": {"x": {"field": "period", "type": "nominal", "scale": {"type": "band", "domain": ["第8期", "第9期", "第10期", "第11期", "第12期", "第13期"], "paddingInner": 0.14, "paddingOuter": 0.355, "align": 1}}, "y": {"field": "value", "type": "quantitative"}, "text": {"field": "label", "type": "nominal"}}},
{"data": {"name": "bps"}, "transform": [{"filter": "datum.period == '第12期'"}], "mark": {"type": "text", "font": "Liberation Sans, Noto Sans CJK JP, sans-serif", "fontSize": 10, "dx": 2, "dy": 13, "color": "#222"}, "encoding": {"x": {"field": "period", "type": "nominal", "scale": {"type": "band", "domain": ["第8期", "第9期", "第10期", "第11期", "第12期", "第13期"], "paddingInner": 0.14, "paddingOuter": 0.355, "align": 1}}, "y": {"field": "value", "type": "quantitative"}, "text": {"field": "label", "type": "nominal"}}},
{"data": {"name": "periods"}, "transform": [{"filter": "length(datum.n) == 1"}], "mark": {"type": "text", "text": "第", "align": "right", "dx": -4, "dy": 12.5, "fontSize": 7.5, "color": "#333"}, "encoding": {"x": {"field": "period", "type": "nominal", "scale": {"type": "band", "domain": ["第8期", "第9期", "第10期", "第11期", "第12期", "第13期"], "paddingInner": 0.14, "paddingOuter": 0.355, "align": 1}}, "y": {"datum": -800, "type": "quantitative"}}},
{"data": {"name": "periods"}, "transform": [{"filter": "length(datum.n) == 1"}], "mark": {"type": "text", "text": "期", "align": "left", "dx": 4, "dy": 12.5, "fontSize": 7.5, "color": "#333"}, "encoding": {"x": {"field": "period", "type": "nominal", "scale": {"type": "band", "domain": ["第8期", "第9期", "第10期", "第11期", "第12期", "第13期"], "paddingInner": 0.14, "paddingOuter": 0.355, "align": 1}}, "y": {"datum": -800, "type": "quantitative"}}},
{"data": {"name": "periods"}, "transform": [{"filter": "length(datum.n) == 2 && datum.n != '13'"}], "mark": {"type": "text", "text": "第", "align": "right", "dx": -8, "dy": 12.5, "fontSize": 7.5, "color": "#333"}, "encoding": {"x": {"field": "period", "type": "nominal", "scale": {"type": "band", "domain": ["第8期", "第9期", "第10期", "第11期", "第12期", "第13期"], "paddingInner": 0.14, "paddingOuter": 0.355, "align": 1}}, "y": {"datum": -800, "type": "quantitative"}}},
{"data": {"name": "periods"}, "transform": [{"filter": "length(datum.n) == 2 && datum.n != '13'"}], "mark": {"type": "text", "text": "期", "align": "left", "dx": 8, "dy": 12.5, "fontSize": 7.5, "color": "#333"}, "encoding": {"x": {"field": "period", "type": "nominal", "scale": {"type": "band", "domain": ["第8期", "第9期", "第10期", "第11期", "第12期", "第13期"], "paddingInner": 0.14, "paddingOuter": 0.355, "align": 1}}, "y": {"datum": -800, "type": "quantitative"}}},
{"data": {"name": "periods"}, "transform": [{"filter": "datum.n != '13'"}], "mark": {"type": "text", "font": "Roboto", "fontWeight": 300, "fontSize": 12.5, "dy": 11, "color": "#333"}, "encoding": {"x": {"field": "period", "type": "nominal", "scale": {"type": "band", "domain": ["第8期", "第9期", "第10期", "第11期", "第12期", "第13期"], "paddingInner": 0.14, "paddingOuter": 0.355, "align": 1}}, "y": {"datum": -800, "type": "quantitative"}, "text": {"field": "n", "type": "nominal"}}},
{"data": {"name": "periods"}, "transform": [{"filter": "datum.n != '13'"}], "mark": {"type": "text", "fontSize": 5.6, "lineBreak": "\n", "lineHeight": 6.6, "dy": 23.5, "color": "#333"}, "encoding": {"x": {"field": "period", "type": "nominal", "scale": {"type": "band", "domain": ["第8期", "第9期", "第10期", "第11期", "第12期", "第13期"], "paddingInner": 0.14, "paddingOuter": 0.355, "align": 1}}, "y": {"datum": -800, "type": "quantitative"}, "text": {"field": "sub", "type": "nominal"}}},
{"data": {"name": "periods"}, "transform": [{"filter": "datum.n != '13'"}], "mark": {"type": "text", "text": "(", "font": "Liberation Sans, sans-serif", "fontSize": 15, "dx": -15.5, "dy": 23.5, "color": "#444"}, "encoding": {"x": {"field": "period", "type": "nominal", "scale": {"type": "band", "domain": ["第8期", "第9期", "第10期", "第11期", "第12期", "第13期"], "paddingInner": 0.14, "paddingOuter": 0.355, "align": 1}}, "y": {"datum": -800, "type": "quantitative"}}},
{"data": {"name": "periods"}, "transform": [{"filter": "datum.n != '13'"}], "mark": {"type": "text", "text": ")", "font": "Liberation Sans, sans-serif", "fontSize": 15, "dx": 15.5, "dy": 23.5, "color": "#444"}, "encoding": {"x": {"field": "period", "type": "nominal", "scale": {"type": "band", "domain": ["第8期", "第9期", "第10期", "第11期", "第12期", "第13期"], "paddingInner": 0.14, "paddingOuter": 0.355, "align": 1}}, "y": {"datum": -800, "type": "quantitative"}}}
]
},
{
"width": 362, "height": 306,
"title": {"text": "当期純損失（△）又は四半期純利益"},
"layer": [
{"data": {"values": [{}]}, "mark": {"type": "rect", "color": "#e3e9e9"}, "encoding": {"y": {"datum": -900000, "type": "quantitative", "scale": {"domain": [-1150900, 240000], "nice": false, "zero": false}, "axis": {"title": null, "values": [150000, 0, -150000, -300000, -450000, -600000, -750000, -900000], "labelExpr": "datum.value < 0 ? '△' + format(-datum.value, ',') : format(datum.value, ',')"}}, "y2": {"datum": -1150900}}},
{"data": {"values": [{"period": "第13期"}]}, "mark": {"type": "bar", "color": "#000000", "opacity": 0.06, "width": {"band": 1}}, "encoding": {"x": {"field": "period", "type": "nominal", "scale": {"type": "band", "domain": ["第8期", "第9期", "第10期", "第11期", "第12期", "第13期"], "paddingInner": 0.14, "paddingOuter": 0.355, "align": 1}, "axis": {"orient": "top", "title": "(単位:千円)"}}, "y": {"datum": 150000, "type": "quantitative"}, "y2": {"datum": -1150900}}},
{"data": {"values": [{}]}, "mark": {"type": "rule", "color": "#2a2a2a", "strokeWidth": 1.2}, "encoding": {"y": {"datum": 0, "type": "quantitative"}}},
{"data": {"name": "netloss"}, "mark": {"type": "bar", "color": "#2b2e35", "width": 12}, "encoding": {"x": {"field": "period", "type": "nominal", "scale": {"type": "band", "domain": ["第8期", "第9期", "第10期", "第11期", "第12期", "第13期"], "paddingInner": 0.14, "paddingOuter": 0.355, "align": 1}}, "y": {"field": "value", "type": "quantitative"}, "y2": {"datum": 0}}},
{"data": {"name": "netloss"}, "transform": [{"filter": "datum.value < 0"}], "mark": {"type": "text", "font": "Liberation Sans, Noto Sans CJK JP, sans-serif", "fontSize": 10, "baseline": "top", "dy": 4, "color": "#222"}, "encoding": {"x": {"field": "period", "type": "nominal", "scale": {"type": "band", "domain": ["第8期", "第9期", "第10期", "第11期", "第12期", "第13期"], "paddingInner": 0.14, "paddingOuter": 0.355, "align": 1}}, "y": {"field": "value", "type": "quantitative"}, "text": {"field": "label", "type": "nominal"}}},
{"data": {"name": "netloss"}, "transform": [{"filter": "datum.value >= 0"}], "mark": {"type": "text", "font": "Liberation Sans, Noto Sans CJK JP, sans-serif", "fontSize": 10, "baseline": "alphabetic", "dy": -3.5, "color": "#222"}, "encoding": {"x": {"field": "period", "type": "nominal", "scale": {"type": "band", "domain": ["第8期", "第9期", "第10期", "第11期", "第12期", "第13期"], "paddingInner": 0.14, "paddingOuter": 0.355, "align": 1}}, "y": {"field": "value", "type": "quantitative"}, "text": {"field": "label", "type": "nominal"}}},
{"data": {"name": "periods"}, "transform": [{"filter": "length(datum.n) == 1"}], "mark": {"type": "text", "text": "第", "align": "right", "dx": -4, "dy": 12.5, "fontSize": 7.5, "color": "#333"}, "encoding": {"x": {"field": "period", "type": "nominal", "scale": {"type": "band", "domain": ["第8期", "第9期", "第10期", "第11期", "第12期", "第13期"], "paddingInner": 0.14, "paddingOuter": 0.355, "align": 1}}, "y": {"datum": -900000, "type": "quantitative"}}},
{"data": {"name": "periods"}, "transform": [{"filter": "length(datum.n) == 1"}], "mark": {"type": "text", "text": "期", "align": "left", "dx": 4, "dy": 12.5, "fontSize": 7.5, "color": "#333"}, "encoding": {"x": {"field": "period", "type": "nominal", "scale": {"type": "band", "domain": ["第8期", "第9期", "第10期", "第11期", "第12期", "第13期"], "paddingInner": 0.14, "paddingOuter": 0.355, "align": 1}}, "y": {"datum": -900000, "type": "quantitative"}}},
{"data": {"name": "periods"}, "transform": [{"filter": "length(datum.n) == 2"}], "mark": {"type": "text", "text": "第", "align": "right", "dx": -8, "dy": 12.5, "fontSize": 7.5, "color": "#333"}, "encoding": {"x": {"field": "period", "type": "nominal", "scale": {"type": "band", "domain": ["第8期", "第9期", "第10期", "第11期", "第12期", "第13期"], "paddingInner": 0.14, "paddingOuter": 0.355, "align": 1}}, "y": {"datum": -900000, "type": "quantitative"}}},
{"data": {"name": "periods"}, "transform": [{"filter": "length(datum.n) == 2"}], "mark": {"type": "text", "text": "期", "align": "left", "dx": 8, "dy": 12.5, "fontSize": 7.5, "color": "#333"}, "encoding": {"x": {"field": "period", "type": "nominal", "scale": {"type": "band", "domain": ["第8期", "第9期", "第10期", "第11期", "第12期", "第13期"], "paddingInner": 0.14, "paddingOuter": 0.355, "align": 1}}, "y": {"datum": -900000, "type": "quantitative"}}},
{"data": {"name": "periods"}, "mark": {"type": "text", "font": "Roboto", "fontWeight": 300, "fontSize": 12.5, "dy": 11, "color": "#333"}, "encoding": {"x": {"field": "period", "type": "nominal", "scale": {"type": "band", "domain": ["第8期", "第9期", "第10期", "第11期", "第12期", "第13期"], "paddingInner": 0.14, "paddingOuter": 0.355, "align": 1}}, "y": {"datum": -900000, "type": "quantitative"}, "text": {"field": "n", "type": "nominal"}}},
{"data": {"name": "periods"}, "transform": [{"filter": "datum.n != '13'"}], "mark": {"type": "text", "fontSize": 5.6, "lineBreak": "\n", "lineHeight": 6.6, "dy": 23.5, "color": "#333"}, "encoding": {"x": {"field": "period", "type": "nominal", "scale": {"type": "band", "domain": ["第8期", "第9期", "第10期", "第11期", "第12期", "第13期"], "paddingInner": 0.14, "paddingOuter": 0.355, "align": 1}}, "y": {"datum": -900000, "type": "quantitative"}, "text": {"field": "sub", "type": "nominal"}}},
{"data": {"name": "periods"}, "transform": [{"filter": "datum.n != '13'"}], "mark": {"type": "text", "text": "(", "font": "Liberation Sans, sans-serif", "fontSize": 15, "dx": -15.5, "dy": 23.5, "color": "#444"}, "encoding": {"x": {"field": "period", "type": "nominal", "scale": {"type": "band", "domain": ["第8期", "第9期", "第10期", "第11期", "第12期", "第13期"], "paddingInner": 0.14, "paddingOuter": 0.355, "align": 1}}, "y": {"datum": -900000, "type": "quantitative"}}},
{"data": {"name": "periods"}, "transform": [{"filter": "datum.n != '13'"}], "mark": {"type": "text", "text": ")", "font": "Liberation Sans, sans-serif", "fontSize": 15, "dx": 15.5, "dy": 23.5, "color": "#444"}, "encoding": {"x": {"field": "period", "type": "nominal", "scale": {"type": "band", "domain": ["第8期", "第9期", "第10期", "第11期", "第12期", "第13期"], "paddingInner": 0.14, "paddingOuter": 0.355, "align": 1}}, "y": {"datum": -900000, "type": "quantitative"}}},
{"data": {"name": "periods"}, "transform": [{"filter": "datum.n == '13'"}], "mark": {"type": "text", "fontSize": 7.1, "lineBreak": "\n", "lineHeight": 8.4, "dy": 25.6, "color": "#333"}, "encoding": {"x": {"field": "period", "type": "nominal", "scale": {"type": "band", "domain": ["第8期", "第9期", "第10期", "第11期", "第12期", "第13期"], "paddingInner": 0.14, "paddingOuter": 0.355, "align": 1}}, "y": {"datum": -900000, "type": "quantitative"}, "text": {"field": "q", "type": "nominal"}}},
{"data": {"name": "periods"}, "transform": [{"filter": "datum.n == '13'"}], "mark": {"type": "text", "fontSize": 6.4, "lineBreak": "\n", "lineHeight": 8, "dy": 46.4, "color": "#333"}, "encoding": {"x": {"field": "period", "type": "nominal", "scale": {"type": "band", "domain": ["第8期", "第9期", "第10期", "第11期", "第12期", "第13期"], "paddingInner": 0.14, "paddingOuter": 0.355, "align": 1}}, "y": {"datum": -900000, "type": "quantitative"}, "text": {"field": "sub", "type": "nominal"}}},
{"data": {"name": "periods"}, "transform": [{"filter": "datum.n == '13'"}], "mark": {"type": "text", "text": "(", "font": "Liberation Sans, sans-serif", "fontSize": 15, "dx": -16, "dy": 46.4, "color": "#444"}, "encoding": {"x": {"field": "period", "type": "nominal", "scale": {"type": "band", "domain": ["第8期", "第9期", "第10期", "第11期", "第12期", "第13期"], "paddingInner": 0.14, "paddingOuter": 0.355, "align": 1}}, "y": {"datum": -900000, "type": "quantitative"}}},
{"data": {"name": "periods"}, "transform": [{"filter": "datum.n == '13'"}], "mark": {"type": "text", "text": ")", "font": "Liberation Sans, sans-serif", "fontSize": 15, "dx": 16, "dy": 46.4, "color": "#444"}, "encoding": {"x": {"field": "period", "type": "nominal", "scale": {"type": "band", "domain": ["第8期", "第9期", "第10期", "第11期", "第12期", "第13期"], "paddingInner": 0.14, "paddingOuter": 0.355, "align": 1}}, "y": {"datum": -900000, "type": "quantitative"}}}
]
},
{
"width": 362, "height": 306,
"title": {"text": "1株当たり当期純損失（△）又は1株当たり四半期純利益"},
"layer": [
{"data": {"values": [{}]}, "mark": {"type": "rect", "color": "#e3e9e9"}, "encoding": {"y": {"datum": -200, "type": "quantitative", "scale": {"domain": [-261.6, 71.0], "nice": false, "zero": false}, "axis": {"title": null, "values": [50, 0, -50, -100, -150, -200], "labelExpr": "datum.value < 0 ? '△' + format(-datum.value, ',') : format(datum.value, ',')"}}, "y2": {"datum": -261.6}}},
{"data": {"values": [{"period": "第13期"}]}, "mark": {"type": "bar", "color": "#000000", "opacity": 0.06, "width": {"band": 1}}, "encoding": {"x": {"field": "period", "type": "nominal", "scale": {"type": "band", "domain": ["第8期", "第9期", "第10期", "第11期", "第12期", "第13期"], "paddingInner": 0.14, "paddingOuter": 0.355, "align": 1}, "axis": {"orient": "top", "title": "(単位:円)"}}, "y": {"datum": 50, "type": "quantitative"}, "y2": {"datum": -261.6}}},
{"data": {"values": [{}]}, "mark": {"type": "rule", "color": "#2a2a2a", "strokeWidth": 1.2}, "encoding": {"y": {"datum": 0, "type": "quantitative"}}},
{"data": {"name": "eps"}, "transform": [{"filter": "datum.period != '第13期'"}], "mark": {"type": "line", "color": "#222", "strokeWidth": 1.5}, "encoding": {"x": {"field": "period", "type": "nominal", "scale": {"type": "band", "domain": ["第8期", "第9期", "第10期", "第11期", "第12期", "第13期"], "paddingInner": 0.14, "paddingOuter": 0.355, "align": 1}}, "y": {"field": "value", "type": "quantitative"}}},
{"data": {"name": "eps"}, "mark": {"type": "point", "filled": true, "fill": "white", "stroke": "#222", "strokeWidth": 1.5, "size": 60, "opacity": 1}, "encoding": {"x": {"field": "period", "type": "nominal", "scale": {"type": "band", "domain": ["第8期", "第9期", "第10期", "第11期", "第12期", "第13期"], "paddingInner": 0.14, "paddingOuter": 0.355, "align": 1}}, "y": {"field": "value", "type": "quantitative"}}},
{"data": {"name": "eps"}, "transform": [{"filter": "datum.period == '第9期'"}], "mark": {"type": "text", "font": "Liberation Sans, Noto Sans CJK JP, sans-serif", "fontSize": 10, "dx": 1, "dy": -12, "color": "#222"}, "encoding": {"x": {"field": "period", "type": "nominal", "scale": {"type": "band", "domain": ["第8期", "第9期", "第10期", "第11期", "第12期", "第13期"], "paddingInner": 0.14, "paddingOuter": 0.355, "align": 1}}, "y": {"field": "value", "type": "quantitative"}, "text": {"field": "label", "type": "nominal"}}},
{"data": {"name": "eps"}, "transform": [{"filter": "datum.period == '第12期'"}], "mark": {"type": "text", "font": "Liberation Sans, Noto Sans CJK JP, sans-serif", "fontSize": 10, "dx": 8, "dy": -12.5, "color": "#222"}, "encoding": {"x": {"field": "period", "type": "nominal", "scale": {"type": "band", "domain": ["第8期", "第9期", "第10期", "第11期", "第12期", "第13期"], "paddingInner": 0.14, "paddingOuter": 0.355, "align": 1}}, "y": {"field": "value", "type": "quantitative"}, "text": {"field": "label", "type": "nominal"}}},
{"data": {"name": "eps"}, "transform": [{"filter": "datum.period == '第13期'"}], "mark": {"type": "text", "font": "Liberation Sans, Noto Sans CJK JP, sans-serif", "fontSize": 10, "dx": 4, "dy": -11.5, "color": "#222"}, "encoding": {"x": {"field": "period", "type": "nominal", "scale": {"type": "band", "domain": ["第8期", "第9期", "第10期", "第11期", "第12期", "第13期"], "paddingInner": 0.14, "paddingOuter": 0.355, "align": 1}}, "y": {"field": "value", "type": "quantitative"}, "text": {"field": "label", "type": "nominal"}}},
{"data": {"name": "eps"}, "transform": [{"filter": "datum.period == '第8期'"}], "mark": {"type": "text", "font": "Liberation Sans, Noto Sans CJK JP, sans-serif", "fontSize": 10, "dx": 1, "dy": 13, "color": "#222"}, "encoding": {"x": {"field": "period", "type": "nominal", "scale": {"type": "band", "domain": ["第8期", "第9期", "第10期", "第11期", "第12期", "第13期"], "paddingInner": 0.14, "paddingOuter": 0.355, "align": 1}}, "y": {"field": "value", "type": "quantitative"}, "text": {"field": "label", "type": "nominal"}}},
{"data": {"name": "eps"}, "transform": [{"filter": "datum.period == '第10期'"}], "mark": {"type": "text", "font": "Liberation Sans, Noto Sans CJK JP, sans-serif", "fontSize": 10, "dx": 18, "dy": 8.5, "color": "#222"}, "encoding": {"x": {"field": "period", "type": "nominal", "scale": {"type": "band", "domain": ["第8期", "第9期", "第10期", "第11期", "第12期", "第13期"], "paddingInner": 0.14, "paddingOuter": 0.355, "align": 1}}, "y": {"field": "value", "type": "quantitative"}, "text": {"field": "label", "type": "nominal"}}},
{"data": {"name": "eps"}, "transform": [{"filter": "datum.period == '第11期'"}], "mark": {"type": "text", "font": "Liberation Sans, Noto Sans CJK JP, sans-serif", "fontSize": 10, "dx": -29, "dy": -1, "color": "#222"}, "encoding": {"x": {"field": "period", "type": "nominal", "scale": {"type": "band", "domain": ["第8期", "第9期", "第10期", "第11期", "第12期", "第13期"], "paddingInner": 0.14, "paddingOuter": 0.355, "align": 1}}, "y": {"field": "value", "type": "quantitative"}, "text": {"field": "label", "type": "nominal"}}},
{"data": {"name": "periods"}, "transform": [{"filter": "length(datum.n) == 1"}], "mark": {"type": "text", "text": "第", "align": "right", "dx": -4, "dy": 12.5, "fontSize": 7.5, "color": "#333"}, "encoding": {"x": {"field": "period", "type": "nominal", "scale": {"type": "band", "domain": ["第8期", "第9期", "第10期", "第11期", "第12期", "第13期"], "paddingInner": 0.14, "paddingOuter": 0.355, "align": 1}}, "y": {"datum": -200, "type": "quantitative"}}},
{"data": {"name": "periods"}, "transform": [{"filter": "length(datum.n) == 1"}], "mark": {"type": "text", "text": "期", "align": "left", "dx": 4, "dy": 12.5, "fontSize": 7.5, "color": "#333"}, "encoding": {"x": {"field": "period", "type": "nominal", "scale": {"type": "band", "domain": ["第8期", "第9期", "第10期", "第11期", "第12期", "第13期"], "paddingInner": 0.14, "paddingOuter": 0.355, "align": 1}}, "y": {"datum": -200, "type": "quantitative"}}},
{"data": {"name": "periods"}, "transform": [{"filter": "length(datum.n) == 2"}], "mark": {"type": "text", "text": "第", "align": "right", "dx": -8, "dy": 12.5, "fontSize": 7.5, "color": "#333"}, "encoding": {"x": {"field": "period", "type": "nominal", "scale": {"type": "band", "domain": ["第8期", "第9期", "第10期", "第11期", "第12期", "第13期"], "paddingInner": 0.14, "paddingOuter": 0.355, "align": 1}}, "y": {"datum": -200, "type": "quantitative"}}},
{"data": {"name": "periods"}, "transform": [{"filter": "length(datum.n) == 2"}], "mark": {"type": "text", "text": "期", "align": "left", "dx": 8, "dy": 12.5, "fontSize": 7.5, "color": "#333"}, "encoding": {"x": {"field": "period", "type": "nominal", "scale": {"type": "band", "domain": ["第8期", "第9期", "第10期", "第11期", "第12期", "第13期"], "paddingInner": 0.14, "paddingOuter": 0.355, "align": 1}}, "y": {"datum": -200, "type": "quantitative"}}},
{"data": {"name": "periods"}, "mark": {"type": "text", "font": "Roboto", "fontWeight": 300, "fontSize": 12.5, "dy": 11, "color": "#333"}, "encoding": {"x": {"field": "period", "type": "nominal", "scale": {"type": "band", "domain": ["第8期", "第9期", "第10期", "第11期", "第12期", "第13期"], "paddingInner": 0.14, "paddingOuter": 0.355, "align": 1}}, "y": {"datum": -200, "type": "quantitative"}, "text": {"field": "n", "type": "nominal"}}},
{"data": {"name": "periods"}, "transform": [{"filter": "datum.n != '13'"}], "mark": {"type": "text", "fontSize": 5.6, "lineBreak": "\n", "lineHeight": 6.6, "dy": 23.5, "color": "#333"}, "encoding": {"x": {"field": "period", "type": "nominal", "scale": {"type": "band", "domain": ["第8期", "第9期", "第10期", "第11期", "第12期", "第13期"], "paddingInner": 0.14, "paddingOuter": 0.355, "align": 1}}, "y": {"datum": -200, "type": "quantitative"}, "text": {"field": "sub", "type": "nominal"}}},
{"data": {"name": "periods"}, "transform": [{"filter": "datum.n != '13'"}], "mark": {"type": "text", "text": "(", "font": "Liberation Sans, sans-serif", "fontSize": 15, "dx": -15.5, "dy": 23.5, "color": "#444"}, "encoding": {"x": {"field": "period", "type": "nominal", "scale": {"type": "band", "domain": ["第8期", "第9期", "第10期", "第11期", "第12期", "第13期"], "paddingInner": 0.14, "paddingOuter": 0.355, "align": 1}}, "y": {"datum": -200, "type": "quantitative"}}},
{"data": {"name": "periods"}, "transform": [{"filter": "datum.n != '13'"}], "mark": {"type": "text", "text": ")", "font": "Liberation Sans, sans-serif", "fontSize": 15, "dx": 15.5, "dy": 23.5, "color": "#444"}, "encoding": {"x": {"field": "period", "type": "nominal", "scale": {"type": "band", "domain": ["第8期", "第9期", "第10期", "第11期", "第12期", "第13期"], "paddingInner": 0.14, "paddingOuter": 0.355, "align": 1}}, "y": {"datum": -200, "type": "quantitative"}}},
{"data": {"name": "periods"}, "transform": [{"filter": "datum.n == '13'"}], "mark": {"type": "text", "fontSize": 7.1, "lineBreak": "\n", "lineHeight": 8.4, "dy": 25.6, "color": "#333"}, "encoding": {"x": {"field": "period", "type": "nominal", "scale": {"type": "band", "domain": ["第8期", "第9期", "第10期", "第11期", "第12期", "第13期"], "paddingInner": 0.14, "paddingOuter": 0.355, "align": 1}}, "y": {"datum": -200, "type": "quantitative"}, "text": {"field": "q", "type": "nominal"}}},
{"data": {"name": "periods"}, "transform": [{"filter": "datum.n == '13'"}], "mark": {"type": "text", "fontSize": 6.4, "lineBreak": "\n", "lineHeight": 8, "dy": 46.4, "color": "#333"}, "encoding": {"x": {"field": "period", "type": "nominal", "scale": {"type": "band", "domain": ["第8期", "第9期", "第10期", "第11期", "第12期", "第13期"], "paddingInner": 0.14, "paddingOuter": 0.355, "align": 1}}, "y": {"datum": -200, "type": "quantitative"}, "text": {"field": "sub", "type": "nominal"}}},
{"data": {"name": "periods"}, "transform": [{"filter": "datum.n == '13'"}], "mark": {"type": "text", "text": "(", "font": "Liberation Sans, sans-serif", "fontSize": 15, "dx": -16, "dy": 46.4, "color": "#444"}, "encoding": {"x": {"field": "period", "type": "nominal", "scale": {"type": "band", "domain": ["第8期", "第9期", "第10期", "第11期", "第12期", "第13期"], "paddingInner": 0.14, "paddingOuter": 0.355, "align": 1}}, "y": {"datum": -200, "type": "quantitative"}}},
{"data": {"name": "periods"}, "transform": [{"filter": "datum.n == '13'"}], "mark": {"type": "text", "text": ")", "font": "Liberation Sans, sans-serif", "fontSize": 15, "dx": 16, "dy": 46.4, "color": "#444"}, "encoding": {"x": {"field": "period", "type": "nominal", "scale": {"type": "band", "domain": ["第8期", "第9期", "第10期", "第11期", "第12期", "第13期"], "paddingInner": 0.14, "paddingOuter": 0.355, "align": 1}}, "y": {"datum": -200, "type": "quantitative"}}}
]
}
],
"config": {
"view": {"stroke": null},
"font": "Noto Sans CJK JP",
"title": {"font": "Noto Sans CJK JP", "fontSize": 14.5, "fontWeight": "bold", "anchor": "start", "offset": 3, "color": "#222"},
"axisX": {"labels": false, "ticks": false, "grid": false, "domainColor": "#b4b4b4", "domainWidth": 2, "titleFont": "Noto Sans CJK JP", "titleFontSize": 8.5, "titleFontWeight": "normal", "titleColor": "#333", "titleAnchor": "end", "titlePadding": 3},
"axisY": {"domain": false, "ticks": false, "grid": true, "gridDash": [2, 2], "gridColor": "#a8a8a8", "gridWidth": 0.7, "labelAlign": "right", "labelPadding": -35, "labelBaseline": "alphabetic", "labelOffset": -2.5, "labelFont": "Liberation Sans, Noto Sans CJK JP, sans-serif", "labelFontSize": 7.5, "labelColor": "#333", "labelOverlap": false, "labelFlush": false, "labelBound": false},
"legend": {"labelFont": "Noto Sans CJK JP"}
}
}
